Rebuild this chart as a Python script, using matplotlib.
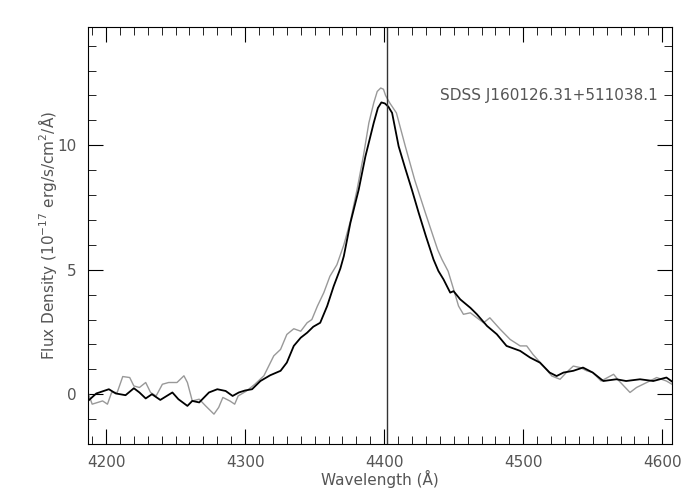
import matplotlib
matplotlib.use("Agg")
import matplotlib.pyplot as plt
from matplotlib.ticker import MultipleLocator

# black spectrum (wavelength in A, flux in 1e-17 erg/s/cm2/A)
black_wave = [4187, 4193, 4202, 4207, 4214, 4220, 4224, 4228.5, 4233, 4239,
              4247.7, 4252, 4258.5, 4262, 4267, 4274, 4280, 4286, 4291, 4295.5,
              4300, 4305, 4311, 4318, 4325.5, 4330, 4335, 4340, 4344.6, 4349,
              4354, 4359, 4363.7, 4368.5, 4371, 4375.7, 4381.7, 4386.5, 4392.5, 4395.5,
              4398, 4400.5, 4403, 4405.7, 4410.4, 4415, 4420, 4424.8, 4430, 4435.5,
              4439, 4442.7, 4447.5, 4449.9, 4454.7, 4462, 4466.7, 4474, 4481, 4488,
              4497.8, 4505, 4512, 4519, 4524, 4529, 4536, 4543, 4550, 4557.6,
              4567, 4574, 4584, 4593.5, 4603, 4608]
black_flux = [-0.27, 0.03, 0.2, 0.03, -0.04, 0.24, 0.07, -0.17, 0.0, -0.23,
              0.07, -0.2, -0.47, -0.27, -0.33, 0.07, 0.2, 0.13, -0.07, 0.07,
              0.15, 0.2, 0.53, 0.76, 0.94, 1.27, 1.94, 2.27, 2.47, 2.71,
              2.87, 3.54, 4.34, 5.05, 5.55, 6.88, 8.22, 9.55, 10.9, 11.5,
              11.72, 11.68, 11.55, 11.3, 9.96, 9.1, 8.2, 7.29, 6.35, 5.41,
              4.95, 4.61, 4.08, 4.14, 3.81, 3.47, 3.21, 2.74, 2.41, 1.94,
              1.74, 1.47, 1.27, 0.87, 0.73, 0.87, 0.94, 1.07, 0.87, 0.53,
              0.6, 0.53, 0.6, 0.53, 0.67, 0.47]

# grey spectrum
grey_wave = [4187, 4190, 4197.5, 4201, 4204, 4208, 4212, 4217, 4220, 4224,
             4228.5, 4232, 4236, 4240.5, 4245, 4251, 4256, 4258.5, 4262, 4267,
             4271.6, 4277.6, 4281, 4284, 4289, 4292.5, 4295, 4301, 4307, 4313.5,
             4320.6, 4325.5, 4330, 4335, 4340, 4344.6, 4348, 4352, 4356.6, 4361,
             4366, 4371, 4375.7, 4380.5, 4385, 4389, 4392.5, 4395, 4397.5, 4399.5,
             4401, 4404, 4408.8, 4415.2, 4422, 4429.6, 4435.5, 4438.5, 4441.6, 4446,
             4450, 4453.5, 4457, 4462, 4466.7, 4471.5, 4476, 4483.4, 4490.6,
             4497.8, 4502.5, 4507, 4514.5, 4520.6, 4526.5, 4531, 4536, 4541, 4545.7,
             4550, 4556, 4565, 4569, 4576.8, 4581.5, 4588.8, 4596, 4603, 4607]
grey_flux = [0.07, -0.4, -0.27, -0.4, 0.07, 0.07, 0.71, 0.67, 0.33, 0.27,
             0.47, 0.07, -0.07, 0.4, 0.47, 0.47, 0.74, 0.47, -0.27, -0.2,
             -0.47, -0.8, -0.53, -0.13, -0.27, -0.4, -0.07, 0.13, 0.4, 0.74,
             1.54, 1.8, 2.4, 2.63, 2.53, 2.87, 3.0, 3.54, 4.08, 4.74,
             5.2, 6.0, 6.95, 8.22, 9.55, 10.9, 11.7, 12.16, 12.3, 12.25,
             12.0, 11.7, 11.3, 9.96, 8.6, 7.29, 6.3, 5.8, 5.41, 4.94,
             4.2, 3.54, 3.21, 3.27, 3.07, 2.87, 3.07, 2.61, 2.2,
             1.94, 1.94, 1.6, 1.13, 0.73, 0.6, 0.87, 1.13, 1.07, 0.94,
             0.87, 0.53, 0.8, 0.53, 0.07, 0.27, 0.47, 0.67, 0.53, 0.4]

line_wave = 4402
object_name = "SDSS J160126.31+511038.1"

text_color = "#555555"

fig = plt.figure(figsize=(7, 5), dpi=100)
ax = fig.add_axes([0.1257, 0.112, 0.8343, 0.834])

ax.plot(grey_wave, grey_flux, color="#999999", lw=1.0)
ax.plot(black_wave, black_flux, color="black", lw=1.3)
ax.axvline(line_wave, color="#333333", lw=1.0)

ax.set_xlim(4187, 4607)
ax.set_ylim(-2, 14.75)
ax.xaxis.set_major_locator(MultipleLocator(100))
ax.xaxis.set_minor_locator(MultipleLocator(10))
ax.yaxis.set_major_locator(MultipleLocator(5))
ax.yaxis.set_minor_locator(MultipleLocator(1))
ax.tick_params(which="both", direction="in", top=True, right=True,
               labelcolor=text_color, labelsize=11, pad=8)
ax.tick_params(which="major", length=11)
ax.tick_params(which="minor", length=6)

ax.set_xlabel("Wavelength (Å)", color=text_color, fontsize=11, labelpad=0)
ax.set_ylabel("Flux Density (10$^{-17}$ erg/s/cm$^2$/Å)", color=text_color,
              fontsize=11, labelpad=-1)
ax.text(4440, 12.0, object_name, color=text_color, fontsize=11, va="center")

fig.savefig("out.png", dpi=100)
